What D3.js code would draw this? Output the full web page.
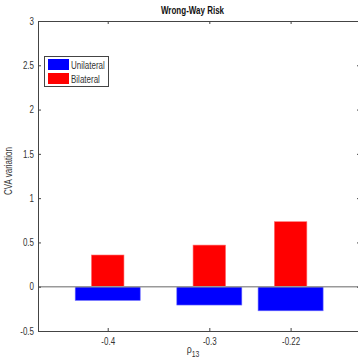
<!DOCTYPE html>
<html>
<head>
<meta charset="utf-8">
<script src="https://cdn.jsdelivr.net/npm/d3@7"></script>
<style>
  html, body { margin: 0; padding: 0; background: #fff; }
  svg { display: block; }
  text { font-family: "Liberation Sans", Arial, sans-serif; fill: #333; }
</style>
</head>
<body>
<svg id="chart" width="358" height="362"></svg>
<script>
// Correlation values on the x axis
const rho = [-0.4, -0.3, -0.22];
// CVA variation per series
const unilateral = [-0.155, -0.207, -0.272];
const bilateral = [0.358, 0.47, 0.734];
// Tick labels
const xTicks = [-0.4, -0.3, -0.22];
const yTicks = [-0.5, 0, 0.5, 1, 1.5, 2, 2.5, 3];
const seriesNames = ["Unilateral", "Bilateral"];
const seriesColors = ["#0000ff", "#ff0000"];

const svg = d3.select("#chart");
const plotL = 38, plotR = 360, plotT = 21, plotB = 331;
const squeeze = 0.8; // horizontal text compression
const plain = (d) => String(d); // hyphen-minus tick labels

const x = d3.scaleLinear().domain([-0.4686, -0.1517]).range([plotL, plotR]);
const y = d3.scaleLinear().domain([-0.5, 3]).range([plotB, plotT]);

const wideW = 0.064, narrowW = 0.032;

// Unilateral bars (wide)
svg.append("g").selectAll("rect").data(rho).join("rect")
  .attr("x", (d) => x(d - wideW / 2))
  .attr("width", x(wideW) - x(0))
  .attr("y", (d, i) => y(Math.max(0, unilateral[i])))
  .attr("height", (d, i) => Math.abs(y(unilateral[i]) - y(0)))
  .attr("fill", seriesColors[0])
  .attr("stroke", "#7070ff").attr("stroke-width", 0.6);

// Bilateral bars (narrow)
svg.append("g").selectAll("rect").data(rho).join("rect")
  .attr("x", (d) => x(d - narrowW / 2))
  .attr("width", x(narrowW) - x(0))
  .attr("y", (d, i) => y(Math.max(0, bilateral[i])))
  .attr("height", (d, i) => Math.abs(y(bilateral[i]) - y(0)))
  .attr("fill", seriesColors[1])
  .attr("stroke", "#ff7070").attr("stroke-width", 0.6);

// Zero baseline
svg.append("line")
  .attr("x1", plotL).attr("x2", plotR)
  .attr("y1", y(0)).attr("y2", y(0))
  .attr("stroke", "#999").attr("stroke-width", 1.5);

// Axes (ticks pointing inward), labels compressed horizontally
const axisStyle = (g) => {
  g.selectAll(".domain").attr("stroke", "#444");
  g.selectAll(".tick line").attr("stroke", "#444");
  g.selectAll(".tick text")
    .attr("fill", "#333")
    .style("font-family", "'Liberation Sans', Arial, sans-serif")
    .style("font-size", "10px")
    .attr("x", function () { return (+d3.select(this).attr("x") || 0) / squeeze; })
    .attr("transform", `scale(${squeeze},1)`);
};

svg.append("g").attr("transform", `translate(0,${plotB})`)
  .call(d3.axisBottom(x).tickValues(xTicks).tickFormat(plain).tickSizeInner(-3).tickSizeOuter(0).tickPadding(7))
  .call(axisStyle);
svg.append("g").attr("transform", `translate(0,${plotT})`)
  .call(d3.axisTop(x).tickValues(xTicks).tickFormat("").tickSizeInner(-3).tickSizeOuter(0))
  .call(axisStyle);
svg.append("g").attr("transform", `translate(${plotL},0)`)
  .call(d3.axisLeft(y).tickValues(yTicks).tickFormat(plain).tickSizeInner(-3).tickSizeOuter(0).tickPadding(4))
  .call(axisStyle);
svg.append("g").attr("transform", `translate(${plotR},0)`)
  .call(d3.axisRight(y).tickValues(yTicks).tickFormat("").tickSizeInner(-3).tickSizeOuter(0))
  .call(axisStyle);

// Helper for squeezed free-standing text
function label(tx, ty, rot, anchor) {
  return svg.append("g")
    .attr("transform", `translate(${tx},${ty}) rotate(${rot}) scale(${squeeze},1)`)
    .append("text").attr("text-anchor", anchor);
}

// Title
label(192.5, 14, 0, "middle")
  .style("font-size", "10px").style("font-weight", "bold").style("fill", "#111")
  .text("Wrong-Way Risk");

// Axis labels
label(12, 171, -90, "middle").style("font-size", "10px").text("CVA variation");
const xl = label(193, 353, 0, "middle").style("font-size", "11px");
xl.append("tspan").text("ρ");
xl.append("tspan").attr("dy", 4).style("font-size", "8.5px").text("13");

// Legend
const lg = svg.append("g");
lg.append("rect").attr("x", 44.5).attr("y", 56.5).attr("width", 64).attr("height", 30)
  .attr("fill", "#fff").attr("stroke", "#444");
seriesNames.forEach((name, i) => {
  const yy = 59 + i * 14;
  lg.append("rect").attr("x", 48).attr("y", yy).attr("width", 21).attr("height", 11)
    .attr("fill", seriesColors[i]);
  label(71, yy + 9.5, 0, "start").style("font-size", "10px").text(name);
});
</script>
</body>
</html>
